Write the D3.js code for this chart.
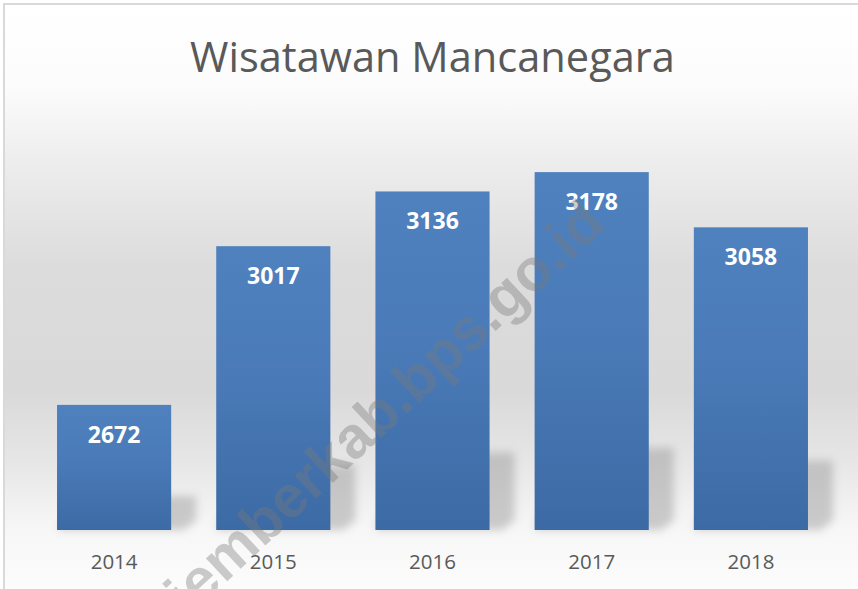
<!DOCTYPE html>
<html>
<head>
<meta charset="utf-8">
<script src="https://cdn.jsdelivr.net/npm/d3@7"></script>
<style>
  html, body { margin: 0; padding: 0; background: #ffffff; }
  svg { display: block; }
</style>
</head>
<body>
<svg id="chart" width="858" height="589"></svg>
<script>
// ---- data ----
const titleText = "Wisatawan Mancanegara";
const years = ["2014", "2015", "2016", "2017", "2018"];
const visitors = [2672, 3017, 3136, 3178, 3058];
const yDomain = [2400, 3200];
const watermark = "jemberkab.bps.go.id";

const W = 858, H = 589;
const svg = d3.select("#chart");
const defs = svg.append("defs");

// background gradient
const bg = defs.append("linearGradient").attr("id", "bgGrad")
  .attr("x1", 0).attr("y1", 0).attr("x2", 0).attr("y2", 1);
[[0, "#ffffff"], [0.14, "#fcfcfc"], [0.27, "#ededed"], [0.45, "#dcdcdc"],
 [0.66, "#d9d9d9"], [0.78, "#e6e6e6"], [0.9, "#f7f7f7"], [1, "#fcfcfc"]]
  .forEach(([o, c]) => bg.append("stop").attr("offset", o).attr("stop-color", c));

// bar gradient
const bar = defs.append("linearGradient").attr("id", "barGrad")
  .attr("x1", 0).attr("y1", 0).attr("x2", 0).attr("y2", 1);
bar.append("stop").attr("offset", 0).attr("stop-color", "#4f81bf");
bar.append("stop").attr("offset", 0.45).attr("stop-color", "#4a7bb8");
bar.append("stop").attr("offset", 1).attr("stop-color", "#3c6aa4");

const blur = defs.append("filter").attr("id", "shBlur")
  .attr("x", "-30%").attr("y", "-30%").attr("width", "160%").attr("height", "160%");
blur.append("feGaussianBlur").attr("stdDeviation", 4.5);

// chart area background + border
svg.append("rect").attr("x", 4).attr("y", 4).attr("width", W - 4).attr("height", H - 4)
  .attr("fill", "url(#bgGrad)");
svg.append("path").attr("d", `M4,${H} V4 H${W}`)
  .attr("fill", "none").attr("stroke", "#d9d9d9").attr("stroke-width", 2);

// scales
const x = d3.scaleBand().domain(years).range([34.5, 830.5])
  .paddingInner(0.283).paddingOuter(0.1415);
const y = d3.scaleLinear().domain(yDomain).range([530, 162]);
const base = y(yDomain[0]);

const data = years.map((yr, i) => ({ yr, v: visitors[i] }));

// shadows
svg.append("g").selectAll("path").data(data).join("path")
  .attr("d", d => {
    const x0 = x(d.yr), x1 = x0 + x.bandwidth();
    const h = base - y(d.v);
    const sh = Math.max(34, 0.23 * h);
    const dx = 25;
    const top = base - sh;
    return `M${x0 + dx},${top} L${x1 + dx},${top} L${x1 + dx},${base - 10} L${x1 + dx - 12},${base} L${x0},${base} Z`;
  })
  .attr("fill", "#8f8f8f").attr("opacity", 0.42)
  .attr("filter", "url(#shBlur)");

// bars
svg.append("g").selectAll("rect").data(data).join("rect")
  .attr("x", d => x(d.yr))
  .attr("y", d => y(d.v))
  .attr("width", x.bandwidth())
  .attr("height", d => base - y(d.v))
  .attr("fill", "url(#barGrad)");

// value labels
svg.append("g").selectAll("text").data(data).join("text")
  .attr("x", d => x(d.yr) + x.bandwidth() / 2)
  .attr("y", d => y(d.v) + 38)
  .attr("text-anchor", "middle")
  .attr("font-family", "'Open Sans', sans-serif")
  .attr("font-weight", 700)
  .attr("font-size", 23)
  .attr("fill", "#ffffff")
  .text(d => d.v);

// x axis (labels only)
const xAxis = d3.axisBottom(x).tickSize(0).tickPadding(0);
const gx = svg.append("g").attr("transform", `translate(0,${base})`).call(xAxis);
gx.select(".domain").remove();
gx.selectAll("text")
  .attr("dy", 0).attr("y", 39)
  .attr("font-family", "'Open Sans', sans-serif")
  .attr("font-size", 20.5)
  .attr("fill", "#595959");

// title
const title = svg.append("text")
  .attr("x", 432.5).attr("y", 72)
  .attr("text-anchor", "middle")
  .attr("font-family", "'Open Sans', sans-serif")
  .attr("font-weight", 400)
  .attr("font-size", 42)
  .attr("fill", "#595959")
  .text(titleText);
const tw = title.node().getComputedTextLength();
title.attr("font-size", 42 * 485 / tw);

// watermark
svg.append("text")
  .attr("transform", "translate(398,422) rotate(-43)")
  .attr("text-anchor", "middle")
  .attr("font-family", "'Liberation Sans', Arial, sans-serif")
  .attr("font-weight", 700)
  .attr("font-size", 59)
  .attr("fill", "#7a7a7a")
  .attr("opacity", 0.38)
  .text(watermark);
</script>
</body>
</html>
